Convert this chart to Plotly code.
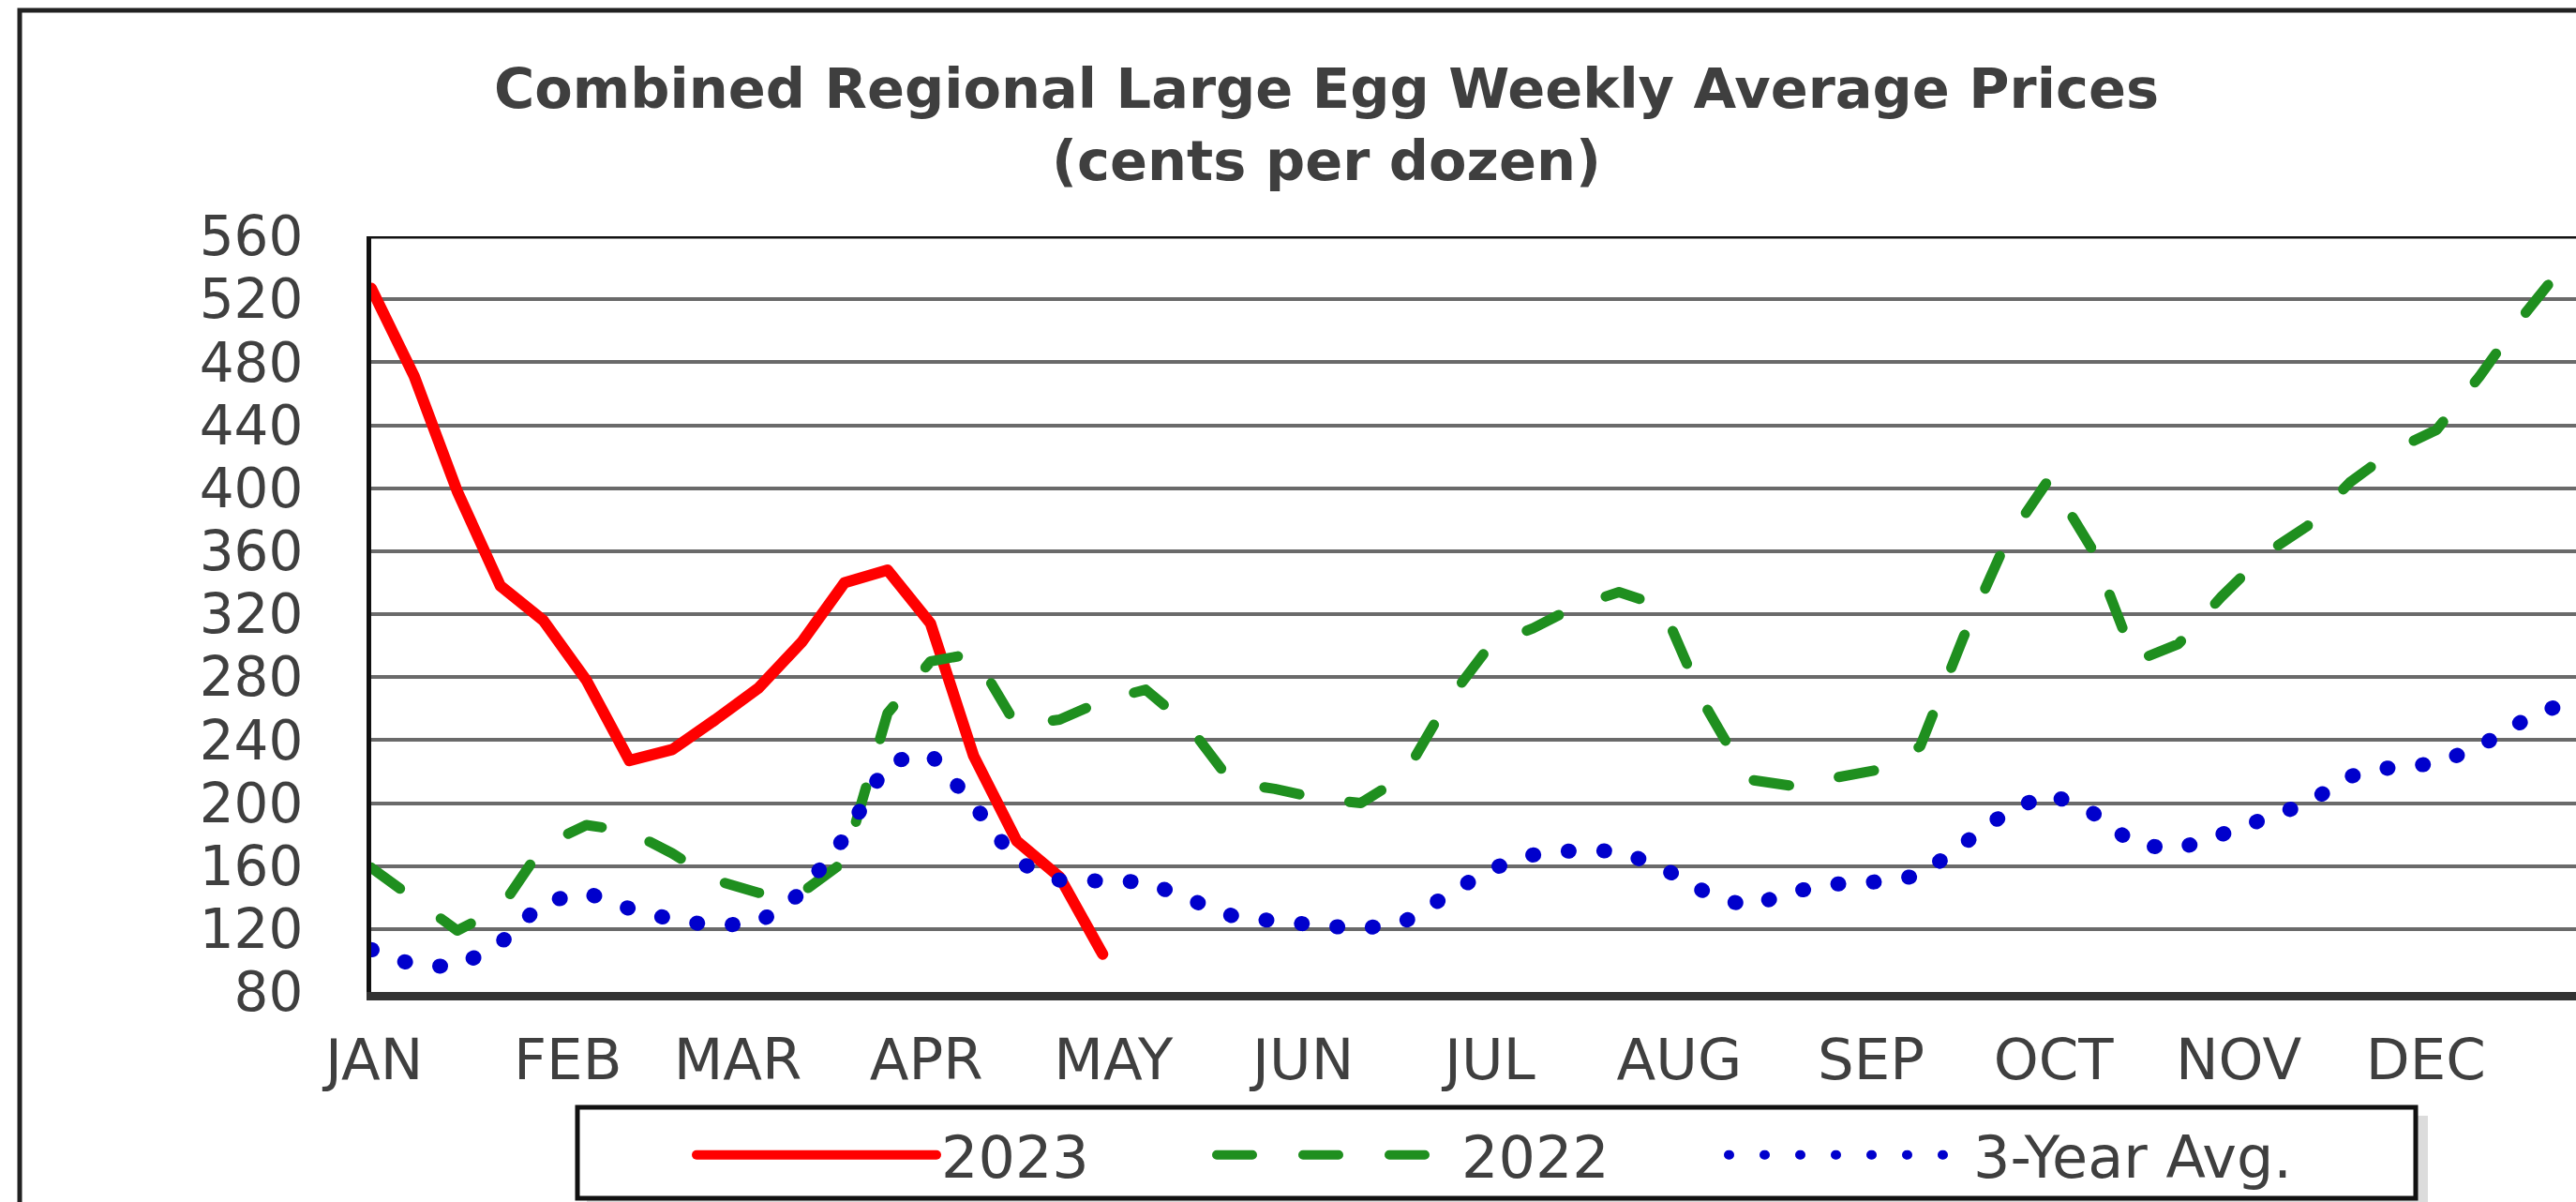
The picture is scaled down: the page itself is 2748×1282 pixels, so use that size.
import plotly.graph_objects as go

# ---- data ----
weeks_2023 = list(range(1, 19))
price_2023 = [527, 471, 398, 338, 316, 278, 227, 234, 253, 273, 302, 340, 348, 314, 230, 176, 153, 104]

weeks_all = list(range(1, 53))
price_2022 = [159, 139, 119, 133, 173, 186, 182, 168, 151, 143, 143, 163, 257, 290, 295, 249,
              253, 265, 272, 249, 213, 209, 203, 200, 217, 264, 300, 311, 325, 334, 325, 262,
              215, 211, 216, 221, 236, 305, 366, 406, 361, 290, 301, 331, 358, 376, 404, 424,
              437, 471, 509, 543]
price_3yr = [107, 97, 96, 111, 137, 143, 133, 126, 122, 124, 143, 178, 226, 231, 199, 163,
             151, 151, 150, 139, 128.5, 125, 122.5, 120, 124.5, 141, 158, 167, 170, 169.5, 159, 143.5,
             134, 143.5, 148.5, 150, 154, 174, 194, 206, 194, 173.5, 171, 180, 189, 200, 217, 223,
             225, 236, 252, 264]

month_labels = ["JAN", "FEB", "MAR", "APR", "MAY", "JUN", "JUL", "AUG", "SEP", "OCT", "NOV", "DEC"]
month_pos = [1.07, 5.57, 9.52, 13.9, 18.25, 22.66, 27.0, 31.4, 35.86, 40.1, 44.4, 48.75]
y_ticks = list(range(80, 561, 40))

W, H = 2748, 1282
L, T, B = 396, 252, 224
plot_w = W - L
plot_h = H - T - B
px_per_week = 45.9
x_max = 1 + plot_w / px_per_week

def px(xp):
    return (xp - L) / plot_w

def py(yp):
    return (H - B - yp) / plot_h

FONT = "DejaVu Sans"
TXT = "#3f3f3f"

fig = go.Figure()
fig.add_trace(go.Scatter(x=weeks_2023, y=price_2023, mode="lines", name="2023",
                         line=dict(color="#ff0000", width=12), legend="legend"))
fig.add_trace(go.Scatter(x=weeks_all, y=price_2022, mode="lines", name="2022",
                         line=dict(color="#1f8f1f", width=11, dash="38px,54px"), legend="legend2"))
fig.add_trace(go.Scatter(x=weeks_all, y=price_3yr, mode="lines", name="3-Year Avg.",
                         line=dict(color="#0000cc", width=16, dash="1px,37px"), legend="legend3"))

leg_common = dict(orientation="h", xanchor="left", yanchor="middle", bgcolor="rgba(0,0,0,0)",
                  borderwidth=0, itemwidth=256,
                  font=dict(family=FONT, size=62, color=TXT))
ly = py(1232)

shapes = [
    # outer chart frame
    dict(type="rect", xref="paper", yref="paper", x0=px(21), x1=px(W + 40), y0=py(11), y1=py(H + 40),
         line=dict(color="#222222", width=5), fillcolor="rgba(0,0,0,0)", layer="above"),
    # legend shadow
    dict(type="rect", xref="paper", yref="paper", x0=px(626), x1=px(2590), y0=py(1190), y1=py(1290),
         line=dict(width=0), fillcolor="#dcdcdc", layer="above"),
    # legend box
    dict(type="rect", xref="paper", yref="paper", x0=px(616), x1=px(2577), y0=py(1181), y1=py(1278),
         line=dict(color="#111111", width=5), fillcolor="white", layer="above"),
    # top plot border line
    dict(type="line", xref="paper", yref="y", x0=0, x1=1, y0=560, y1=560,
         line=dict(color="#111111", width=5), layer="above"),
]

fig.update_layout(
    width=W, height=H,
    margin=dict(l=L, r=0, t=T, b=B, autoexpand=False),
    paper_bgcolor="white", plot_bgcolor="white",
    title=dict(text="<b>Combined Regional Large Egg Weekly Average Prices</b><br><b>(cents per dozen)</b>",
               x=1415 / W, xanchor="center", y=1 - 115 / H, yanchor="top",
               font=dict(family=FONT, size=59, color=TXT)),
    xaxis=dict(range=[1, x_max], tickmode="array", tickvals=month_pos, ticktext=month_labels,
               showgrid=False, zeroline=False, showline=True, linecolor="#333333", linewidth=9,
               ticks="", ticklabelstandoff=11,
               tickfont=dict(family=FONT, size=61, color=TXT)),
    yaxis=dict(range=[80, 560], tickmode="array", tickvals=y_ticks,
               showgrid=True, gridcolor="#6a6a6a", gridwidth=4, zeroline=False,
               showline=True, linecolor="#111111", linewidth=5,
               ticks="", ticklabelstandoff=56,
               tickfont=dict(family=FONT, size=58, color=TXT)),
    legend=dict(x=px(738), y=ly, **leg_common),
    legend2=dict(x=px(1293), y=ly, **leg_common),
    legend3=dict(x=px(1839), y=ly, **leg_common),
    shapes=shapes,
    showlegend=True,
)

js = """
var s = document.createElement('style');
s.innerHTML = 'html, body { margin: 0; padding: 0; } path.js-line, .legend path { stroke-linecap: round; stroke-linejoin: round; }';
document.head.appendChild(s);
"""
fig.write_html("out.html", post_script=js, config={"displayModeBar": False})
